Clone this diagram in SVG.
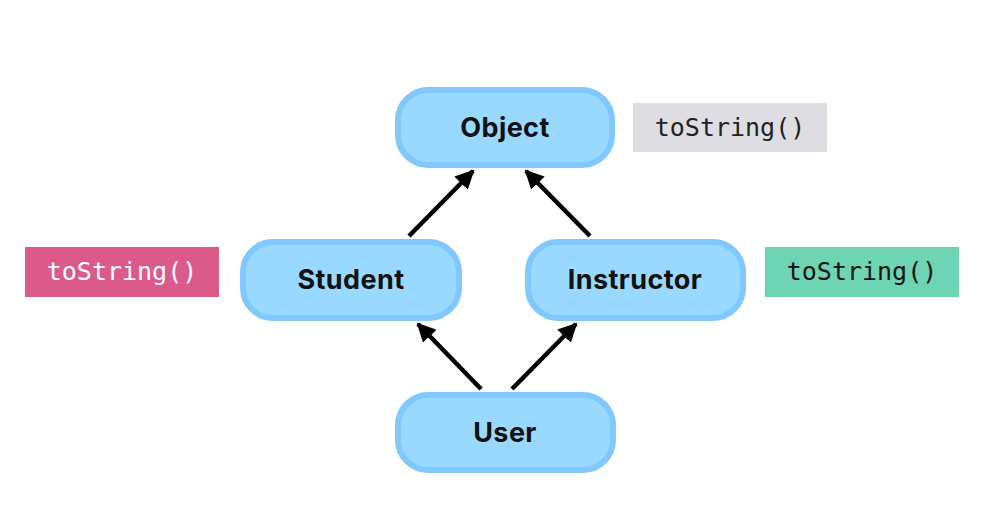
<svg xmlns="http://www.w3.org/2000/svg" width="994" height="514" viewBox="0 0 994 514">
<style>
.node rect{fill:#99d9ff;stroke:#80c8fe;stroke-width:6}
.node text{font-family:Inter,"Noto Sans",sans-serif;font-weight:700;font-size:27px;letter-spacing:0.4px;fill:#111;text-anchor:middle;dominant-baseline:central}
.code{font-family:"DejaVu Sans Mono","Liberation Mono",monospace;font-size:25px;text-anchor:middle;dominant-baseline:central}
.conn line{stroke:#000;stroke-width:4.5;marker-end:url(#ah)}
</style>
<defs>
<marker id="ah" viewBox="0 0 10 10" refX="9" refY="5" markerWidth="4.2" markerHeight="4.2" orient="auto" markerUnits="strokeWidth">
<path d="M0,0 L10,5 L0,10 Z" fill="#000"/>
</marker>
</defs>
<rect width="994" height="514" fill="#fff"/>
<g id="object" class="node"><rect x="398" y="90" width="214" height="75" rx="30"/><text x="505" y="127">Object</text></g>
<g id="student" class="node"><rect x="243" y="242" width="216" height="76" rx="30"/><text x="351" y="279">Student</text></g>
<g id="instructor" class="node"><rect x="528" y="242" width="215" height="76" rx="30"/><text x="635" y="279">Instructor</text></g>
<g id="user" class="node"><rect x="398" y="395" width="215" height="75" rx="30"/><text x="505" y="432">User</text></g>
<g id="label-object"><rect x="633" y="103" width="194" height="49" fill="#dddde2"/><text class="code" x="730" y="127" fill="#222">toString()</text></g>
<g id="label-student"><rect x="25" y="247" width="194" height="50" fill="#dc5a8a"/><text class="code" x="122" y="271" fill="#fff">toString()</text></g>
<g id="label-instructor"><rect x="765" y="247" width="194" height="50" fill="#6dd5b3"/><text class="code" x="862" y="271" fill="#111">toString()</text></g>
<g id="connectors" class="conn">
<line x1="409" y1="236" x2="473" y2="171"/>
<line x1="590" y1="236" x2="526" y2="171"/>
<line x1="481" y1="389" x2="418" y2="324"/>
<line x1="512" y1="389" x2="576" y2="324"/>
</g>
</svg>
